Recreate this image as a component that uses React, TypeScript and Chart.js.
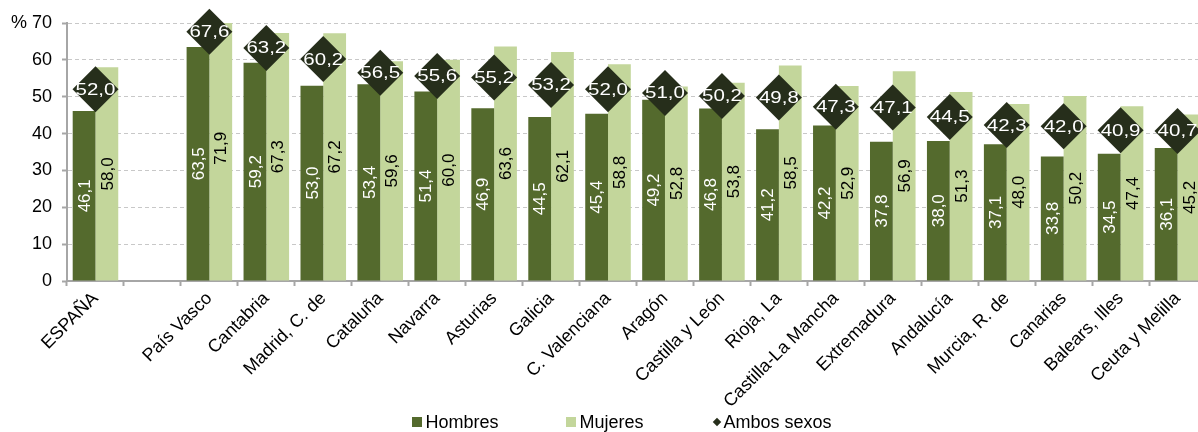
import React, { useEffect, useRef } from 'react';
import { Chart, registerables } from 'chart.js';

Chart.register(...registerables);

const categories = [
  'ESPAÑA', '', 'País Vasco', 'Cantabria', 'Madrid, C. de', 'Cataluña', 'Navarra', 'Asturias',
  'Galicia', 'C. Valenciana', 'Aragón', 'Castilla y León', 'Rioja, La', 'Castilla-La Mancha',
  'Extremadura', 'Andalucía', 'Murcia, R. de', 'Canarias', 'Balears, Illes', 'Ceuta y Melilla',
];
const hombres = [46.1, null, 63.5, 59.2, 53.0, 53.4, 51.4, 46.9, 44.5, 45.4, 49.2, 46.8, 41.2, 42.2, 37.8, 38.0, 37.1, 33.8, 34.5, 36.1];
const mujeres = [58.0, null, 71.9, 67.3, 67.2, 59.6, 60.0, 63.6, 62.1, 58.8, 52.8, 53.8, 58.5, 52.9, 56.9, 51.3, 48.0, 50.2, 47.4, 45.2];
const ambos = [52.0, null, 67.6, 63.2, 60.2, 56.5, 55.6, 55.2, 53.2, 52.0, 51.0, 50.2, 49.8, 47.3, 47.1, 44.5, 42.3, 42.0, 40.9, 40.7];
const yTicks = [0, 10, 20, 30, 40, 50, 60, 70];
const seriesNames = ['Hombres', 'Mujeres', 'Ambos sexos'];

const C_HOMBRES = '#546a2d';
const C_MUJERES = '#c3d69b';
const C_AMBOS = '#262e1b';
const FONT = '"Liberation Sans", Arial, sans-serif';

const fmt = (v: number) => v.toFixed(1).replace('.', ',');

const labelPlugin = {
  id: 'valueLabels',
  afterDatasetsDraw(chart: any) {
    const ctx = chart.ctx;
    ctx.save();
    ctx.font = `17px ${FONT}`;
    ctx.textAlign = 'center';
    ctx.textBaseline = 'middle';
    [0, 1].forEach((di) => {
      const meta = chart.getDatasetMeta(di);
      const data = chart.data.datasets[di].data;
      meta.data.forEach((el: any, i: number) => {
        const v = data[i];
        if (v == null) return;
        const cy = (el.y + el.base) / 2;
        ctx.save();
        ctx.translate(el.x, cy);
        ctx.rotate(-Math.PI / 2);
        ctx.fillStyle = di === 0 ? '#ffffff' : '#000000';
        ctx.fillText(fmt(v), 0, 1);
        ctx.restore();
      });
    });
    const meta2 = chart.getDatasetMeta(2);
    const data2 = chart.data.datasets[2].data;
    ctx.font = `16px ${FONT}`;
    meta2.data.forEach((el: any, i: number) => {
      const v = data2[i];
      if (v == null) return;
      ctx.save();
      ctx.translate(el.x, el.y + 1);
      ctx.scale(1.28, 1);
      ctx.fillStyle = '#ffffff';
      ctx.fillText(fmt(v), 0, 0);
      ctx.restore();
    });
    ctx.restore();
  },
};

export default function App() {
  const ref = useRef<HTMLCanvasElement>(null);

  useEffect(() => {
    if (!ref.current) return;
    Chart.defaults.font.family = FONT;
    const chart = new Chart(ref.current, {
      type: 'bar',
      data: {
        labels: categories,
        datasets: [
          {
            type: 'bar',
            label: seriesNames[0],
            data: hombres,
            backgroundColor: C_HOMBRES,
            categoryPercentage: 0.8,
            barPercentage: 1.0,
            order: 1,
          } as any,
          {
            type: 'bar',
            label: seriesNames[1],
            data: mujeres,
            backgroundColor: C_MUJERES,
            categoryPercentage: 0.8,
            barPercentage: 1.0,
            order: 1,
          } as any,
          {
            type: 'line',
            label: seriesNames[2],
            data: ambos,
            showLine: false,
            pointStyle: 'rectRot',
            pointRadius: 23,
            pointHoverRadius: 23,
            pointBackgroundColor: C_AMBOS,
            pointBorderColor: C_AMBOS,
            pointBorderWidth: 0,
            clip: false,
            order: 0,
          } as any,
        ],
      },
      options: {
        responsive: false,
        animation: false,
        devicePixelRatio: 1,
        layout: { padding: { top: 20, right: 38, left: 0, bottom: 0 } },
        plugins: {
          legend: { display: false },
          tooltip: { enabled: false },
        },
        scales: {
          x: {
            offset: true,
            grid: {
              display: true,
              offset: true,
              drawOnChartArea: false,
              drawTicks: true,
              tickLength: 5,
              tickColor: '#a6a6a6',
              tickWidth: 2,
            },
            border: { display: true, color: '#a6a6a6', width: 2 },
            ticks: {
              autoSkip: false,
              maxRotation: 45,
              minRotation: 45,
              color: '#000000',
              font: { size: 18, family: FONT },
              padding: 2,
            },
            afterFit: (scale: any) => {
              scale.height = 151;
            },
          },
          y: {
            min: 0,
            max: 70,
            afterBuildTicks: (scale: any) => {
              scale.ticks = yTicks.map((v) => ({ value: v }));
            },
            grid: {
              color: '#c8c8c8',
              lineWidth: 1,
              drawTicks: true,
              tickLength: 5,
              tickColor: '#a6a6a6',
              tickWidth: 2,
            },
            border: { display: true, color: '#a6a6a6', width: 2, dash: [4, 3] },
            ticks: {
              color: '#000000',
              font: { size: 18, family: FONT },
              padding: 10,
              callback: (v: any) => (v === 70 ? '% 70' : String(v)),
            },
            afterFit: (scale: any) => {
              scale.width = 67;
            },
          },
        },
      },
      plugins: [labelPlugin],
    });
    return () => chart.destroy();
  }, []);

  const item = (marker: React.ReactNode, text: string, last = false) => (
    <div style={{ display: 'flex', alignItems: 'center', marginRight: last ? 0 : 68 }}>
      {marker}
      <span>{text}</span>
    </div>
  );

  return (
    <div
      style={{
        position: 'absolute',
        left: 0,
        top: 0,
        width: 1198,
        height: 432,
        overflow: 'hidden',
        background: '#ffffff',
      }}
    >
      <canvas ref={ref} width={1244} height={432} style={{ display: 'block', width: 1244, height: 432 }} />
      <div
        style={{
          position: 'absolute',
          top: 411,
          left: 0,
          width: 1244,
          display: 'flex',
          justifyContent: 'center',
          fontFamily: FONT,
          fontSize: 18,
          lineHeight: '22px',
          color: '#000000',
        }}
      >
        {item(<span style={{ width: 10, height: 10, background: C_HOMBRES, marginRight: 3, display: 'inline-block' }} />, seriesNames[0])}
        {item(<span style={{ width: 10, height: 10, background: C_MUJERES, marginRight: 3, display: 'inline-block' }} />, seriesNames[1])}
        {item(
          <span
            style={{
              width: 6,
              height: 6,
              background: C_AMBOS,
              transform: 'rotate(45deg)',
              margin: '0 4px 0 2px',
              display: 'inline-block',
            }}
          />,
          seriesNames[2],
          true,
        )}
      </div>
    </div>
  );
}
